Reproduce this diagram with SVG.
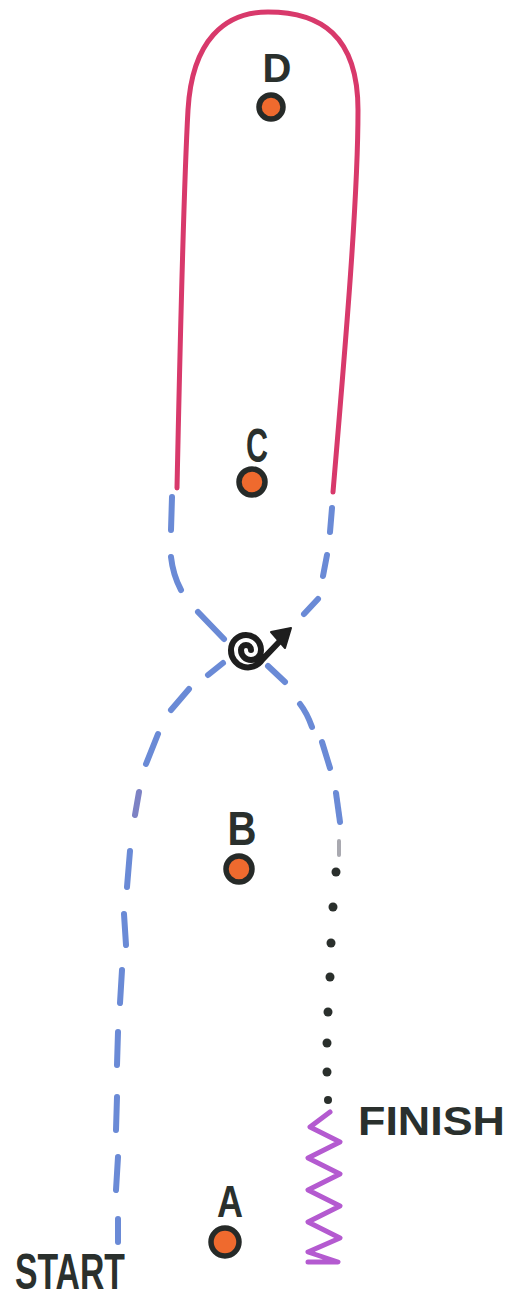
<svg xmlns="http://www.w3.org/2000/svg" width="507" height="1300" viewBox="0 0 507 1300">
<style>
.red{fill:none;stroke:#d8396b;stroke-width:5;stroke-linecap:round}
.blue{fill:none;stroke:#6a8ad6;stroke-width:6;stroke-linecap:round}
.dot{fill:#2a2f2c}
.zig{fill:none;stroke:#b45ad0;stroke-width:5;stroke-linejoin:round;stroke-linecap:round}
.pt{fill:#ef6a2e;stroke:#262a28;stroke-width:5.5}
.lbl{font-family:"Liberation Sans",Arial,sans-serif;font-weight:bold;fill:#2a302d}
</style>
<rect width="507" height="1300" fill="#ffffff"/>
<g id="connectors">
<path class="red" d="M177,488 C180,350 183,200 188,110 C192,40 225,12 268,12 C320,12 358,35 358,110 C358,200 345,350 333,492"/>
<g id="blue-dashes">
<path class="blue" d="M172,497 L171,530"/>
<path class="blue" d="M171,557 Q173,575 181,590"/>
<path class="blue" d="M198,612 L224,639"/>
<path class="blue" d="M268,666 L285,682"/>
<path class="blue" d="M332,508 L330,532"/>
<path class="blue" d="M327,555 L323,576"/>
<path class="blue" d="M318,599 L304,614"/>
<path class="blue" d="M223,663 L208,675"/>
<path class="blue" d="M189,689 L171,710"/>
<path class="blue" d="M158,734 L146,764"/>
<path class="blue" d="M139,792 L135,815" style="stroke:#7d82c4"/>
<path class="blue" d="M130,851 L127,887"/>
<path class="blue" d="M124,914 L126,945"/>
<path class="blue" d="M122,970 L120,1003"/>
<path class="blue" d="M118,1032 L117,1065"/>
<path class="blue" d="M117,1097 L116,1130"/>
<path class="blue" d="M118,1157 L116,1190"/>
<path class="blue" d="M118,1219 L118,1242"/>
<path class="blue" d="M300,704 Q307,713 312,727"/>
<path class="blue" d="M322,742 L330,768"/>
<path class="blue" d="M336,793 L340,822"/>
<path class="blue" d="M339,841 L339,855" style="stroke:#a9a9b0;stroke-width:4"/>
</g>
<g id="dots">
<circle class="dot" cx="336" cy="872" r="4.5"/>
<circle class="dot" cx="333" cy="907" r="4.5"/>
<circle class="dot" cx="331" cy="943" r="4.5"/>
<circle class="dot" cx="330" cy="977" r="4.5"/>
<circle class="dot" cx="328" cy="1012" r="4.5"/>
<circle class="dot" cx="327" cy="1043" r="4.5"/>
<circle class="dot" cx="327" cy="1072" r="4.5"/>
<circle class="dot" cx="328" cy="1100" r="4"/>
</g>
<path class="zig" d="M330,1112 L310,1127 L340,1142 L308,1158 L340,1174 L308,1190 L340,1206 L308,1222 L340,1238 L308,1252 L338,1262 L308,1262"/>
</g>
<g id="spiral">
<path d="M251,650 A5,5 0 0 0 241,650 A10,10 0 0 0 261,650 A15,15 0 0 0 231,650 A17,17 0 0 0 262,660 L281,640" fill="none" stroke="#1e1e1e" stroke-width="6" stroke-linecap="round"/>
<polygon points="291,628 271,632 285,648" fill="#1e1e1e" stroke="#1e1e1e" stroke-width="2" stroke-linejoin="round"/>
</g>
<g id="node-D">
<text class="lbl" x="277" y="82" font-size="40" text-anchor="middle">D</text>
<circle class="pt" cx="271" cy="107" r="12"/>
</g>
<g id="node-C">
<text class="lbl" x="257" y="462" font-size="48" text-anchor="middle" textLength="22" lengthAdjust="spacingAndGlyphs">C</text>
<circle class="pt" cx="252" cy="482" r="13"/>
</g>
<g id="node-B">
<text class="lbl" x="242" y="845" font-size="48" text-anchor="middle" textLength="29" lengthAdjust="spacingAndGlyphs">B</text>
<circle class="pt" cx="239" cy="869" r="13"/>
</g>
<g id="node-A">
<text class="lbl" x="230" y="1217" font-size="44" text-anchor="middle" textLength="26" lengthAdjust="spacingAndGlyphs">A</text>
<circle class="pt" cx="225" cy="1242" r="14"/>
</g>
<g id="label-start">
<text class="lbl" x="15" y="1289" font-size="50" textLength="110" lengthAdjust="spacingAndGlyphs">START</text>
</g>
<g id="label-finish">
<text class="lbl" x="358" y="1135" font-size="40" textLength="147" lengthAdjust="spacingAndGlyphs">FINISH</text>
</g>
</svg>
